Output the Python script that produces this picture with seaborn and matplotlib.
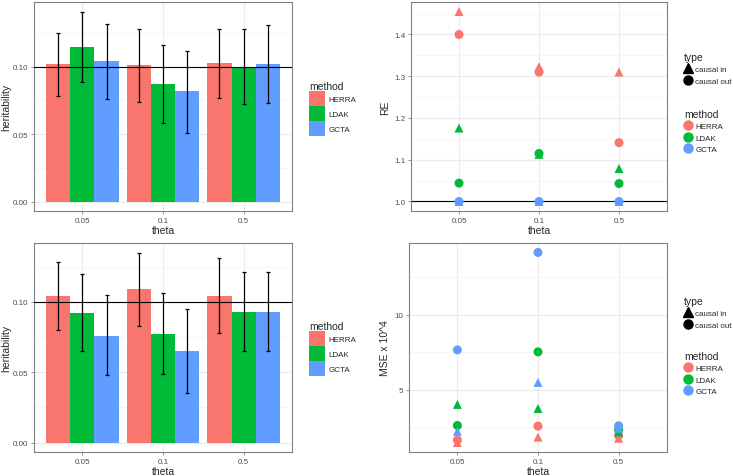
import numpy as np
import pandas as pd
import seaborn as sns
import matplotlib.pyplot as plt
from matplotlib.patches import Patch
from matplotlib.lines import Line2D
from matplotlib.ticker import MultipleLocator

# categories
theta = ['0.05', '0.1', '0.5']
methods = ['HERRA', 'LDAK', 'GCTA']
types = ['causal in', 'causal out']
colors = ['#F8766D', '#00BA38', '#619CFF']

# heritability estimates, rows = theta, cols = method
h_top = [[0.102, 0.115, 0.104], [0.101, 0.087, 0.082], [0.103, 0.100, 0.102]]
h_top_lo = [[0.078, 0.089, 0.076], [0.074, 0.058, 0.051], [0.077, 0.072, 0.073]]
h_top_hi = [[0.125, 0.141, 0.132], [0.128, 0.116, 0.112], [0.128, 0.128, 0.131]]

h_bot = [[0.104, 0.092, 0.076], [0.109, 0.077, 0.065], [0.104, 0.093, 0.093]]
h_bot_lo = [[0.080, 0.065, 0.048], [0.083, 0.049, 0.035], [0.078, 0.065, 0.065]]
h_bot_hi = [[0.128, 0.120, 0.105], [0.135, 0.106, 0.095], [0.131, 0.121, 0.121]]

# relative efficiency, rows = method, cols = theta
re_in = [[1.455, 1.323, 1.310], [1.176, 1.113, 1.079], [1.0, 1.0, 1.0]]
re_out = [[1.400, 1.310, 1.141], [1.044, 1.115, 1.043], [1.0, 1.0, 1.0]]

# MSE x 10^4, rows = method, cols = theta
mse_in = [[1.50, 1.86, 1.78], [4.03, 3.76, 2.20], [2.24, 5.49, 2.45]]
mse_out = [[1.66, 2.59, 1.95], [2.63, 7.52, 2.34], [7.65, 14.12, 2.61]]


def bar_df(mean, lo, hi):
    rows = []
    for i, t in enumerate(theta):
        for j, m in enumerate(methods):
            rows.append((t, m, mean[i][j], lo[i][j], hi[i][j]))
    return pd.DataFrame(rows, columns=['theta', 'method', 'h', 'lo', 'hi'])


def point_df(vin, vout):
    rows = []
    for j, m in enumerate(methods):
        for i, t in enumerate(theta):
            rows.append((t, m, 'causal in', vin[j][i]))
            rows.append((t, m, 'causal out', vout[j][i]))
    return pd.DataFrame(rows, columns=['theta', 'method', 'type', 'value'])


sns.set_theme(style='whitegrid')
plt.rcParams['font.family'] = ['Liberation Sans', 'DejaVu Sans']

fig = plt.figure(figsize=(7.33, 4.77), dpi=100)


def style_axes(ax, minor):
    ax.set_facecolor('white')
    for s in ax.spines.values():
        s.set_color('#808080')
        s.set_linewidth(0.8)
    ax.yaxis.set_minor_locator(MultipleLocator(minor))
    ax.grid(which='major', color='#EBEBEB', linewidth=0.8)
    ax.grid(which='minor', axis='y', color='#F3F3F3', linewidth=0.5)
    ax.set_axisbelow(True)
    ax.tick_params(axis='both', which='major', labelsize=5.8, labelcolor='#4D4D4D',
                   length=2.5, color='#808080', width=0.6, pad=1.5, bottom=True, left=True)
    ax.tick_params(which='minor', length=0)
    ax.set_xlim(-0.6, 2.6)
    ax.xaxis.label.set_size(7.5)
    ax.yaxis.label.set_size(7.5)


def bar_panel(rect, df, legend_xy):
    ax = fig.add_axes(rect)
    sns.barplot(data=df, x='theta', y='h', hue='method', order=theta, hue_order=methods,
                palette=colors, width=0.9, saturation=1, errorbar=None, linewidth=0,
                legend=False, ax=ax)
    bars = list(ax.containers)
    for j, cont in enumerate(bars):
        sub = df[df.method == methods[j]].set_index('theta').loc[theta]
        xs = [p.get_x() + p.get_width() / 2 for p in cont.patches]
        ax.errorbar(xs, sub.h, yerr=[sub.h - sub.lo, sub.hi - sub.h], fmt='none',
                    ecolor='black', elinewidth=0.9, capsize=1.5, capthick=0.9, zorder=4)
    ax.axhline(0.1, color='black', linewidth=0.8, zorder=3)
    style_axes(ax, 0.025)
    top = df.hi.max() * 1.05
    ax.set_ylim(-df.hi.max() * 0.05, top)
    ax.set_yticks([0.0, 0.05, 0.10])
    ax.set_yticklabels(['0.00', '0.05', '0.10'])
    ax.set_xlabel('theta', labelpad=1)
    ax.set_ylabel('heritability', labelpad=1)
    handles = [Patch(facecolor=c, edgecolor='none') for c in colors]
    fig.legend(handles, methods, title='method', loc='upper left', bbox_to_anchor=legend_xy,
               frameon=False, fontsize=5.8, title_fontsize=7.5, handlelength=2.0,
               handleheight=2.5, handletextpad=0.45, labelspacing=0.0, borderpad=0,
               alignment='left')
    return ax


def point_panel(rect, df, ylabel, minor, ticks, ticklabels, hline, type_xy, method_xy):
    ax = fig.add_axes(rect)
    sns.scatterplot(data=df, x='theta', y='value', hue='method', style='type',
                    hue_order=methods, palette=colors,
                    markers={'causal in': '^', 'causal out': 'o'}, s=42,
                    linewidth=0, legend=False, zorder=3, ax=ax)
    if hline is not None:
        ax.axhline(hline, color='black', linewidth=0.8, zorder=2)
    style_axes(ax, minor)
    lo, hi = df.value.min(), df.value.max()
    pad = (hi - lo) * 0.05
    ax.set_ylim(lo - pad, hi + pad)
    ax.set_yticks(ticks)
    ax.set_yticklabels(ticklabels)
    ax.set_xlabel('theta', labelpad=1)
    ax.set_ylabel(ylabel, labelpad=3)
    th = [Line2D([], [], marker=m, color='black', linestyle='none', markersize=6.5)
          for m in ['^', 'o']]
    fig.legend(th, types, title='type', loc='upper left', bbox_to_anchor=type_xy,
               frameon=False, fontsize=5.8, title_fontsize=7.5, handlelength=1.0,
               handletextpad=0.4, labelspacing=0.45, borderpad=0, alignment='left')
    mh = [Line2D([], [], marker='o', color=c, linestyle='none', markersize=6.5)
          for c in colors]
    fig.legend(mh, methods, title='method', loc='upper left', bbox_to_anchor=method_xy,
               frameon=False, fontsize=5.8, title_fontsize=7.5, handlelength=1.0,
               handletextpad=0.4, labelspacing=0.45, borderpad=0, alignment='left')
    return ax


W, H = 733, 477
bar_panel([34 / W, 1 - 212 / H, 258 / W, 209 / H], bar_df(h_top, h_top_lo, h_top_hi),
          (305 / W, 1 - 78 / H))
bar_panel([34 / W, 1 - 453 / H, 258 / W, 209 / H], bar_df(h_bot, h_bot_lo, h_bot_hi),
          (305 / W, 1 - 318 / H))
point_panel([411 / W, 1 - 212 / H, 256 / W, 209 / H], point_df(re_in, re_out), 'RE', 0.05,
            [1.0, 1.1, 1.2, 1.3, 1.4], ['1.0', '1.1', '1.2', '1.3', '1.4'], 1.0,
            (680 / W, 1 - 49 / H), (680 / W, 1 - 106 / H))
point_panel([409 / W, 1 - 453 / H, 258 / W, 209 / H], point_df(mse_in, mse_out), 'MSE x 10^4',
            2.5, [5, 10], ['5', '10'], None,
            (680 / W, 1 - 293 / H), (680 / W, 1 - 348 / H))

fig.savefig('out.png', dpi=100)
